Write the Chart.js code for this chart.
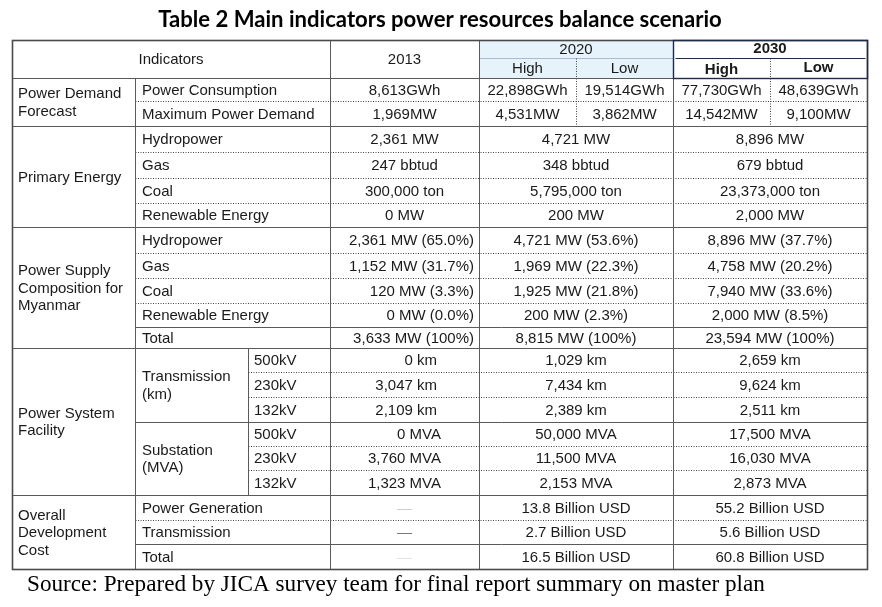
<!DOCTYPE html>
<html>
<head>
<meta charset="utf-8">
<script src="https://cdn.jsdelivr.net/npm/chart.js@4"></script>
<style>
  html, body { margin: 0; padding: 0; background: #fff; }
  canvas { display: block; }
</style>
</head>
<body>
<canvas id="tbl" width="882" height="607"></canvas>
<script>
// --- table content ---
const title = 'Table 2 Main indicators power resources balance scenario';
const source = 'Source: Prepared by JICA survey team for final report summary on master plan';
const headers = ['Indicators', '2013', '2020', '2030'];
const scenarios = ['High', 'Low'];
const groups = [['Power Demand', 'Forecast'], ['Primary Energy'], ['Power Supply', 'Composition for', 'Myanmar'], ['Power System', 'Facility'], ['Overall', 'Development', 'Cost']];
const groupRows = [2, 4, 5, 6, 3];
const items = ['Power Consumption', 'Maximum Power Demand', 'Hydropower', 'Gas', 'Coal', 'Renewable Energy',
  'Hydropower', 'Gas', 'Coal', 'Renewable Energy', 'Total', '', '', '', '', '', '',
  'Power Generation', 'Transmission', 'Total'];
const facilities = [['Transmission', '(km)'], ['Substation', '(MVA)']];
const voltages = ['500kV', '230kV', '132kV', '500kV', '230kV', '132kV'];
const v2013 = ['8,613GWh', '1,969MW', '2,361 MW', '247 bbtud', '300,000 ton', '0 MW',
  '2,361 MW (65.0%)', '1,152 MW (31.7%)', '120 MW (3.3%)', '0 MW (0.0%)', '3,633 MW (100%)',
  '0 km', '3,047 km', '2,109 km', '0 MVA', '3,760 MVA', '1,323 MVA', '—', '—', '—'];
const demand2020 = [['22,898GWh', '19,514GWh'], ['4,531MW', '3,862MW']];
const demand2030 = [['77,730GWh', '48,639GWh'], ['14,542MW', '9,100MW']];
const v2020 = ['4,721 MW', '348 bbtud', '5,795,000 ton', '200 MW',
  '4,721 MW (53.6%)', '1,969 MW (22.3%)', '1,925 MW (21.8%)', '200 MW (2.3%)', '8,815 MW (100%)',
  '1,029 km', '7,434 km', '2,389 km', '50,000 MVA', '11,500 MVA', '2,153 MVA',
  '13.8 Billion USD', '2.7 Billion USD', '16.5 Billion USD'];
const v2030 = ['8,896 MW', '679 bbtud', '23,373,000 ton', '2,000 MW',
  '8,896 MW (37.7%)', '4,758 MW (20.2%)', '7,940 MW (33.6%)', '2,000 MW (8.5%)', '23,594 MW (100%)',
  '2,659 km', '9,624 km', '2,511 km', '17,500 MVA', '16,030 MVA', '2,873 MVA',
  '55.2 Billion USD', '5.6 Billion USD', '60.8 Billion USD'];

// --- layout (table units, 1 unit = 1 px) ---
const colEdge = [12, 135, 248, 330, 479, 576, 673, 770, 867];
const headEdge = [40, 58, 78];
const rowEdge = [78, 101, 126, 152, 178, 203, 227, 253, 278, 303, 327, 348, 372, 397, 422, 446, 470, 495, 520, 544, 569];
const dashColors = ['#cfcfcf', '#7a7a7a', '#e2e2e2'];
const FONT = '15px "Liberation Sans", Arial, sans-serif';
const TEXT = '#1a1a1a';

const mid = (a, b) => (a + b) / 2;
const rowMid = i => mid(rowEdge[i], rowEdge[i + 1]);

// build text anchors
const groupPts = [];
let r0 = 0;
groups.forEach((g, k) => {
  const cy = mid(rowEdge[r0], rowEdge[r0 + groupRows[k]]);
  g.forEach((t, j) => groupPts.push({x: 18, y: cy + (j - (g.length - 1) / 2) * 17.5, t}));
  r0 += groupRows[k];
});

const itemPts = [];
items.forEach((t, i) => { if (t) itemPts.push({x: 142, y: rowMid(i), t}); });
facilities.forEach((f, k) => {
  const cy = mid(rowEdge[11 + 3 * k], rowEdge[14 + 3 * k]);
  f.forEach((t, j) => itemPts.push({x: 142, y: cy + (j - 0.5) * 17.5, t}));
});
voltages.forEach((t, i) => itemPts.push({x: 254, y: rowMid(11 + i), t}));

const pts2013 = v2013.map((t, i) => {
  let x = mid(colEdge[3], colEdge[4]), align = 'center', color = TEXT;
  if (i >= 6 && i <= 10) { x = 474; align = 'right'; }
  else if (i >= 11 && i <= 13) { x = 437; align = 'right'; }
  else if (i >= 14 && i <= 16) { x = 441; align = 'right'; }
  if (i >= 17) color = dashColors[i - 17];
  return {x, y: rowMid(i), t, align, color};
});

const ptsFuture = [];
[demand2020, demand2030].forEach((d, k) => {
  d.forEach((pair, i) => pair.forEach((t, j) => {
    const c = 4 + k * 2 + j;
    ptsFuture.push({x: mid(colEdge[c], colEdge[c + 1]), y: rowMid(i), t});
  }));
});
v2020.forEach((t, i) => ptsFuture.push({x: mid(colEdge[4], colEdge[6]), y: rowMid(i + 2), t}));
v2030.forEach((t, i) => ptsFuture.push({x: mid(colEdge[6], colEdge[8]), y: rowMid(i + 2), t}));

const headPts = [
  {x: mid(colEdge[0], colEdge[3]), y: 59, t: headers[0]},
  {x: mid(colEdge[3], colEdge[4]), y: 59, t: headers[1]},
  {x: mid(colEdge[4], colEdge[6]), y: 49, t: headers[2]},
  {x: mid(colEdge[4], colEdge[5]), y: 68, t: scenarios[0]},
  {x: mid(colEdge[5], colEdge[6]), y: 68, t: scenarios[1]},
  {x: mid(colEdge[6], colEdge[8]), y: 48, t: headers[3], bold: true},
  {x: mid(colEdge[6], colEdge[7]), y: 69, t: scenarios[0], bold: true},
  {x: mid(colEdge[7], colEdge[8]), y: 67, t: scenarios[1], bold: true}
];

function ds(label, data, align) {
  return {label, data, textAlign: align, pointRadius: 0, pointHoverRadius: 0, clip: false};
}

function fitFont(ctx, text, weight, family, width) {
  ctx.font = `${weight} 20px ${family}`;
  const w = ctx.measureText(text).width;
  return `${weight} ${(20 * width / w).toFixed(2)}px ${family}`;
}

const tablePlugin = {
  id: 'tableDraw',
  beforeDatasetsDraw(chart) {
    const ctx = chart.ctx, sx = chart.scales.x, sy = chart.scales.y;
    const X = v => Math.round(sx.getPixelForValue(v)) + 0.5;
    const Y = v => Math.round(sy.getPixelForValue(v)) + 0.5;
    const seg = (x1, y1, x2, y2, color, w, dash) => {
      ctx.save();
      ctx.strokeStyle = color; ctx.lineWidth = w || 1;
      ctx.setLineDash(dash || []);
      ctx.beginPath(); ctx.moveTo(X(x1), Y(y1)); ctx.lineTo(X(x2), Y(y2)); ctx.stroke();
      ctx.restore();
    };
    const SOLID = '#5a5a5a', DOT = [1, 1.5];
    // 2020 header fill
    ctx.fillStyle = '#e6f3fa';
    ctx.fillRect(X(colEdge[4]), Y(headEdge[0]), X(colEdge[6]) - X(colEdge[4]), Y(headEdge[2]) - Y(headEdge[0]));
    seg(colEdge[4], headEdge[1], colEdge[6], headEdge[1], '#a9bccb');
    // horizontal lines
    seg(colEdge[0], headEdge[2], colEdge[8], headEdge[2], SOLID);
    [126, 227, 348, 495].forEach(y => seg(colEdge[0], y, colEdge[8], y, SOLID));
    [327, 422, 544].forEach(y => seg(colEdge[1], y, colEdge[8], y, SOLID));
    [101, 152, 178, 203, 253, 278, 303, 520].forEach(y => seg(colEdge[1], y, colEdge[8], y, '#444', 1, DOT));
    [372, 397, 446, 470].forEach(y => seg(colEdge[2], y, colEdge[8], y, '#444', 1, DOT));
    // vertical lines
    seg(colEdge[1], rowEdge[0], colEdge[1], rowEdge[20], SOLID);
    seg(colEdge[2], rowEdge[11], colEdge[2], rowEdge[17], SOLID);
    [3, 4, 6].forEach(c => seg(colEdge[c], headEdge[0], colEdge[c], rowEdge[20], SOLID));
    [5, 7].forEach(c => seg(colEdge[c], headEdge[1], colEdge[c], rowEdge[2], '#444', 1, DOT));
    // outer border
    ctx.save();
    ctx.strokeStyle = '#4a4a4a'; ctx.lineWidth = 1.6;
    ctx.strokeRect(X(colEdge[0]), Y(headEdge[0]), X(colEdge[8]) - X(colEdge[0]), Y(rowEdge[20]) - Y(headEdge[0]));
    ctx.restore();
    // 2030 header box
    ctx.save();
    ctx.strokeStyle = '#1d2b4a'; ctx.lineWidth = 1.4;
    ctx.strokeRect(X(colEdge[6]), Y(headEdge[0]), X(colEdge[8]) - X(colEdge[6]), Y(headEdge[2]) - Y(headEdge[0]));
    ctx.restore();
    seg(colEdge[6] + 2, headEdge[1], colEdge[8] - 2, headEdge[1], '#1d2b4a');
  },
  afterDatasetsDraw(chart) {
    const ctx = chart.ctx;
    ctx.save();
    ctx.textBaseline = 'middle';
    chart.data.datasets.forEach((d, di) => {
      const meta = chart.getDatasetMeta(di);
      meta.data.forEach((el, i) => {
        const p = d.data[i];
        ctx.font = p.bold ? 'bold ' + FONT : FONT;
        ctx.fillStyle = p.color || TEXT;
        ctx.textAlign = p.align || d.textAlign;
        ctx.fillText(p.t, el.x, el.y + 1);
      });
    });
    // title and source
    const sx = chart.scales.x, sy = chart.scales.y;
    ctx.fillStyle = '#000';
    ctx.textAlign = 'center';
    ctx.font = fitFont(ctx, title, 'bold', 'Lato, "Open Sans", sans-serif', sx.getPixelForValue(722) - sx.getPixelForValue(158));
    ctx.fillText(title, sx.getPixelForValue(440), sy.getPixelForValue(20));
    ctx.textAlign = 'left';
    ctx.font = fitFont(ctx, source, 'normal', '"Liberation Serif", "DejaVu Serif", serif', sx.getPixelForValue(765) - sx.getPixelForValue(27));
    ctx.fillText(source, sx.getPixelForValue(27), sy.getPixelForValue(585));
    ctx.restore();
  }
};

new Chart(document.getElementById('tbl'), {
  type: 'scatter',
  data: {
    datasets: [
      ds('groups', groupPts, 'left'),
      ds('items', itemPts, 'left'),
      ds('2013', pts2013, 'center'),
      ds('future', ptsFuture, 'center'),
      ds('header', headPts, 'center')
    ]
  },
  options: {
    responsive: false,
    animation: false,
    layout: {padding: 0},
    events: [],
    plugins: {legend: {display: false}, tooltip: {enabled: false}},
    scales: {
      x: {type: 'linear', min: 0, max: 882, display: false},
      y: {type: 'linear', min: 0, max: 607, reverse: true, display: false}
    }
  },
  plugins: [tablePlugin]
});
</script>
</body>
</html>
